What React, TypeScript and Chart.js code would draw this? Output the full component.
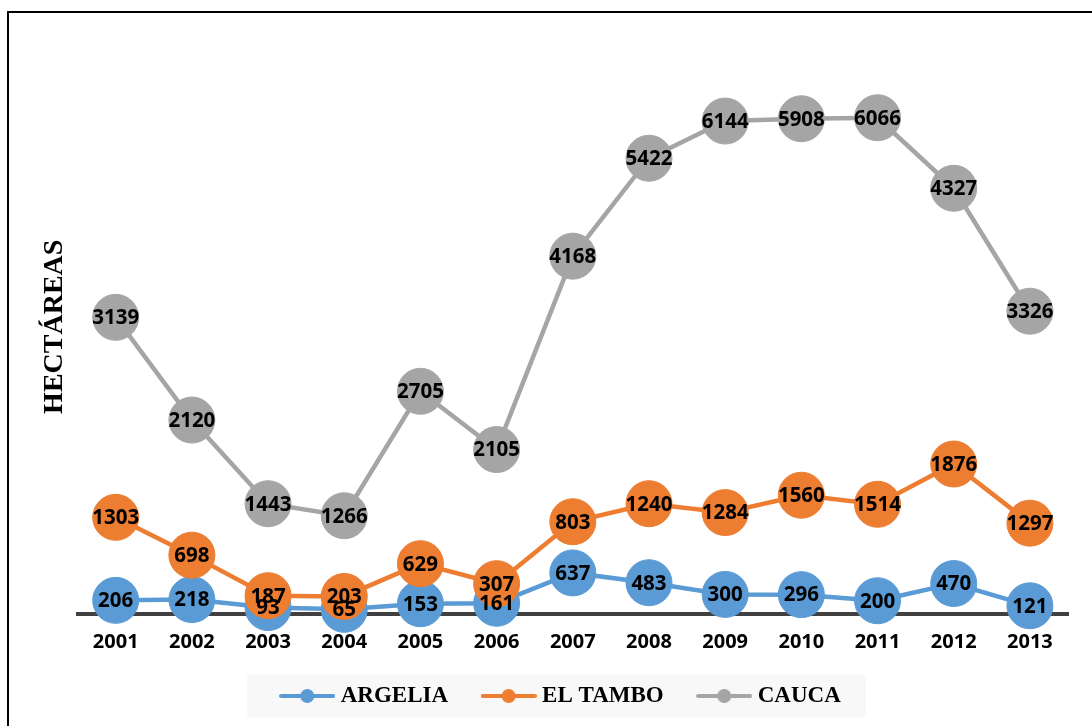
import React, { useEffect, useRef } from 'react';
import { Chart, registerables } from 'chart.js';

Chart.register(...registerables);

const years = ['2001', '2002', '2003', '2004', '2005', '2006', '2007', '2008', '2009', '2010', '2011', '2012', '2013'];
const argelia = [206, 218, 93, 65, 153, 161, 637, 483, 300, 296, 200, 470, 121];
const elTambo = [1303, 698, 187, 203, 629, 307, 803, 1240, 1284, 1560, 1514, 1876, 1297];
const cauca = [3139, 2120, 1443, 1266, 2705, 2105, 4168, 5422, 6144, 5908, 6066, 4327, 3326];
const seriesNames = ['ARGELIA', 'EL TAMBO', 'CAUCA'];
const seriesColors = ['#5B9BD5', '#ED7D31', '#A5A5A5'];
const yAxisTitle = 'HECTÁREAS';

function makeLegendSymbol(color: string): HTMLCanvasElement {
  const c = document.createElement('canvas');
  c.width = 56;
  c.height = 16;
  const ctx = c.getContext('2d')!;
  ctx.strokeStyle = color;
  ctx.lineWidth = 4;
  ctx.lineCap = 'round';
  ctx.beginPath();
  ctx.moveTo(2, 8);
  ctx.lineTo(54, 8);
  ctx.stroke();
  ctx.fillStyle = color;
  ctx.beginPath();
  ctx.arc(28, 8, 7, 0, Math.PI * 2);
  ctx.fill();
  return c;
}

// Draw series in index order (later series on top, as in the original),
// without clipping markers to the plot area, then the value labels on top.
const drawOrderPlugin = {
  id: 'drawOrder',
  beforeDatasetsDraw(chart: any) {
    const n = chart.data.datasets.length;
    for (let i = 0; i < n; i++) {
      const meta = chart.getDatasetMeta(i);
      if (meta.visible !== false) meta.controller.draw();
    }
    const ctx = chart.ctx;
    ctx.save();
    ctx.font = 'bold 20.5px "Noto Sans"';
    ctx.fillStyle = '#000000';
    ctx.textAlign = 'center';
    ctx.textBaseline = 'middle';
    chart.data.datasets.forEach((ds: any, i: number) => {
      const meta = chart.getDatasetMeta(i);
      meta.data.forEach((pt: any, j: number) => {
        ctx.fillText(String(ds.data[j]), pt.x, pt.y + 1);
      });
    });
    ctx.restore();
    return false;
  },
};

const legendShiftPlugin = {
  id: 'legendShift',
  afterLayout(chart: any) {
    const lg = chart.legend;
    if (!lg) return;
    lg.top -= 8;
    lg.bottom -= 8;
  },
};

const legendBgPlugin = {
  id: 'legendBg',
  beforeDraw(chart: any) {
    const lg = chart.legend;
    if (!lg || !lg.legendHitBoxes || !lg.legendHitBoxes.length) return;
    const boxes = lg.legendHitBoxes;
    let minL = Infinity;
    let maxR = -Infinity;
    let cy = 0;
    boxes.forEach((b: any) => {
      minL = Math.min(minL, b.left);
      maxR = Math.max(maxR, b.left + b.width);
      cy = b.top + b.height / 2;
    });
    const ctx = chart.ctx;
    ctx.save();
    ctx.fillStyle = '#F8F8F8';
    ctx.fillRect(minL - 38, cy - 21, maxR - minL + 63, 42);
    ctx.restore();
  },
};

export default function App() {
  const ref = useRef<HTMLCanvasElement>(null);
  useEffect(() => {
    if (!ref.current) return;
    const values = [argelia, elTambo, cauca];
    const symbols = seriesColors.map((c) => makeLegendSymbol(c));
    const chart = new Chart(ref.current, {
      type: 'line',
      data: {
        labels: years,
        datasets: values.map((v, i) => ({
          label: seriesNames[i],
          data: v,
          borderColor: seriesColors[i],
          backgroundColor: seriesColors[i],
          pointBackgroundColor: seriesColors[i],
          pointBorderColor: seriesColors[i],
          pointBorderWidth: 1,
          pointRadius: 23,
          pointHoverRadius: 23,
          borderWidth: 4.5,
          fill: false,
          tension: 0,
        })),
      },
      options: {
        animation: false,
        responsive: false,
        events: [],
        layout: { padding: { left: 49.6, right: 15.6, top: 40, bottom: 0.5 } },
        scales: {
          x: {
            offset: true,
            grid: { display: false, drawTicks: false },
            border: { display: true, color: '#404040', width: 4 },
            ticks: {
              color: '#000000',
              padding: 16.5,
              font: { family: 'Noto Sans', weight: 'bold', size: 20 },
            },
            afterFit: (s: any) => {
              s.height = 40.5;
            },
          },
          y: {
            stacked: true,
            min: 0,
            max: 9000,
            ticks: { display: false },
            grid: { display: false, drawTicks: false },
            border: { display: false },
            title: {
              display: true,
              text: yAxisTitle,
              color: '#000000',
              font: { family: 'Liberation Serif', weight: 'bold', size: 28, lineHeight: 0.4 },
              padding: { top: 0, bottom: 0 },
            },
            afterFit: (s: any) => {
              s.width = 28;
            },
          },
        },
        plugins: {
          tooltip: { enabled: false },
          legend: {
            position: 'bottom',
            labels: {
              usePointStyle: true,
              pointStyleWidth: 44,
              padding: 38.5,
              color: '#000000',
              font: { family: 'Liberation Serif', weight: 'bold', size: 23 },
              generateLabels: (ch: any) => {
                const items = (Chart.defaults.plugins.legend.labels as any).generateLabels(ch);
                return items
                  .sort((a: any, b: any) => a.datasetIndex - b.datasetIndex)
                  .map((it: any) => ({ ...it, pointStyle: symbols[it.datasetIndex] }));
              },
            },
          },
        },
      } as any,
      plugins: [drawOrderPlugin, legendShiftPlugin, legendBgPlugin],
    });
    return () => chart.destroy();
  }, []);

  return (
    <div style={{ position: 'fixed', left: 0, top: 0, width: 1092, height: 726, background: '#ffffff', overflow: 'hidden' }}>
      <div
        style={{
          position: 'absolute',
          left: 7,
          top: 11,
          width: 1200,
          height: 800,
          borderTop: '2px solid #000000',
          borderLeft: '2px solid #000000',
        }}
      />
      <canvas ref={ref} width={1092} height={726} style={{ position: 'absolute', left: 0, top: 0, width: 1092, height: 726 }} />
    </div>
  );
}
